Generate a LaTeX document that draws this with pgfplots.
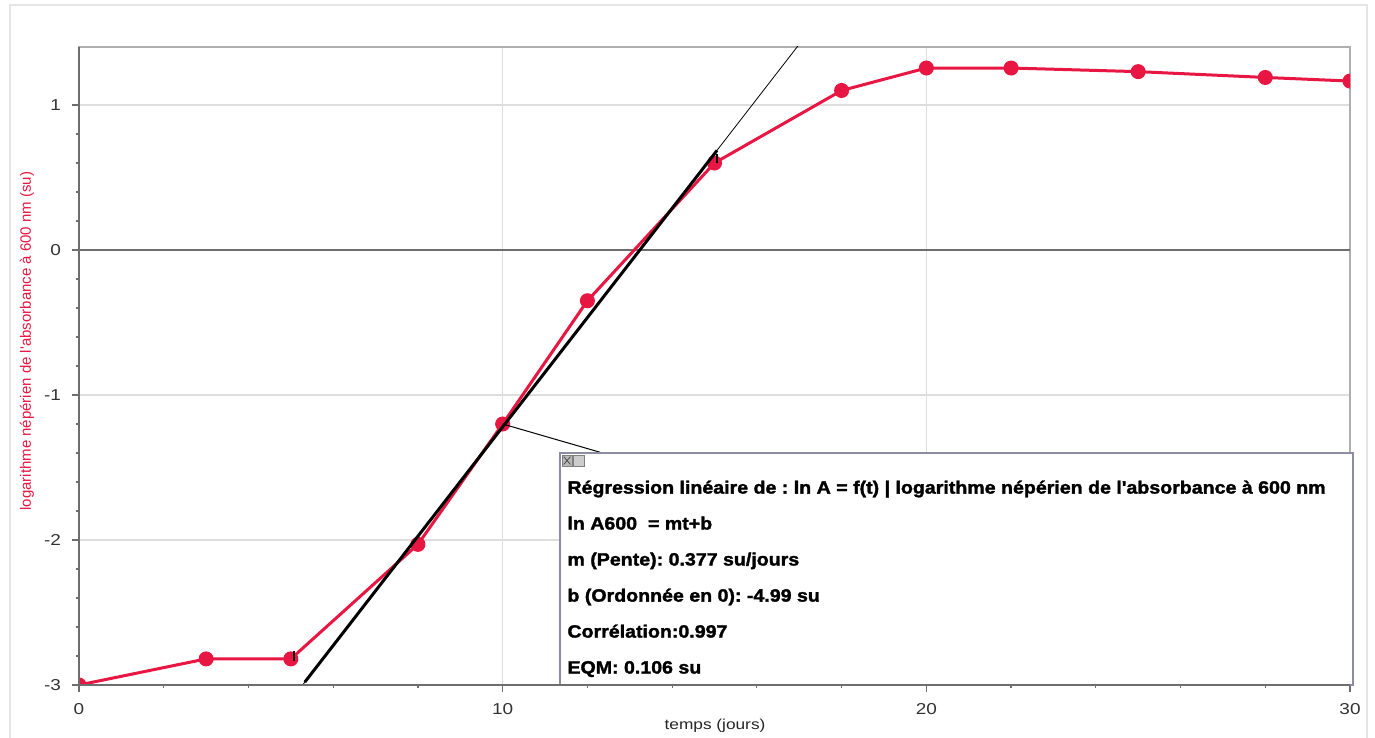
\documentclass[border=0pt]{standalone}
\usepackage{pgfplots}
\pgfplotsset{compat=1.18}
\usepackage{fontspec}
\setmainfont{Liberation Sans}[FakeStretch=1.2]
\newfontfamily\plainfont{Liberation Sans}
\newfontfamily\boxfont{Liberation Sans}[FakeStretch=1.1, BoldFeatures={FakeBold=1.8}]
\definecolor{redc}{RGB}{232,22,66}
\definecolor{axdark}{RGB}{110,110,110}
\definecolor{axlight}{RGB}{175,175,175}
\definecolor{gridc}{RGB}{222,222,222}
\definecolor{boxc}{RGB}{140,140,165}
\frenchspacing
\begin{document}
\begin{tikzpicture}
\useasboundingbox (-39.5pt,-26.5pt) rectangle (648pt,342.5pt);
\draw[black!10, line width=0.6pt] (-34.5pt,-26.5pt) -- (-34.5pt,340pt) -- (644pt,340pt) -- (644pt,-26.5pt);
\begin{axis}[
  at={(0,0)}, anchor=south west,
  scale only axis, width=635.5pt, height=319pt,
  xmin=0, xmax=30, ymin=-3, ymax=1.4,
  xtick={0,10,20,30}, xticklabels={0,10,20,30},
  ytick={-3,-2,-1,0,1}, yticklabels={-3,-2,-1,0,1},
  minor x tick num=4, minor y tick num=4,
  xtick pos=left, ytick pos=left,
  tick align=outside,
  major tick length=3.5pt, minor tick length=1.6pt,
  tick style={axdark, line width=0.6pt},
  grid=major, grid style={gridc, line width=0.6pt},
  axis line style={axlight, line width=0.7pt},
  clip mode=individual, clip marker paths=true,
  tick label style={font=\fontsize{7.9}{9}\selectfont, text=black!80},
  xticklabel style={yshift=-2pt},
  yticklabel style={xshift=-2pt},
  xlabel={temps (jours)},
  ylabel={logarithme népérien de l'absorbance à 600 nm (su)},
  every axis x label/.style={at={(axis description cs:0.5004,-0.0643)}, anchor=center, font=\fontsize{7.2}{8}\selectfont, text=black!85},
  every axis y label/.style={at={(axis description cs:-0.0409,0.539)}, rotate=90, anchor=center, font=\plainfont\fontsize{7.5}{9}\selectfont, text=redc},
]
\draw[axdark, line width=0.7pt] (axis cs:0,0) -- (axis cs:30,0);
\addplot[redc, line width=1.5pt, mark=*, mark size=3pt, mark options={fill=redc, draw=redc}] coordinates {
 (0,-3.0) (3,-2.82) (5,-2.82) (8,-2.03) (10,-1.2) (12,-0.35) (15,0.6)
 (18,1.1) (20,1.255) (22,1.255) (25,1.23) (28,1.19) (30,1.165)};
\addplot[black, line width=0.4pt] coordinates {(5,-3.105) (18,1.796)};
\addplot[black, line width=1.5pt] coordinates {(5.33,-2.98) (15.06,0.687)};
\addplot[black, only marks, mark=|, mark size=2.3pt, mark options={line width=0.9pt}] coordinates {(5.07,-2.80) (15.06,0.63)};
\draw[black, line width=0.5pt] (axis cs:10,-1.2) -- (axis cs:12.3,-1.395);
\draw[boxc, line width=0.8pt, fill=white] (axis cs:11.353,-1.4) rectangle (axis cs:30.07,-3.0);
\draw[gray, fill=gray!55] (axis cs:11.40,-1.414) rectangle (axis cs:11.64,-1.49);
\draw[black!70, line width=0.4pt] (axis cs:11.44,-1.425) -- (axis cs:11.60,-1.479) (axis cs:11.44,-1.479) -- (axis cs:11.60,-1.425);
\draw[gray, fill=gray!40] (axis cs:11.68,-1.414) rectangle (axis cs:11.92,-1.49);
\begin{scope}[every node/.style={anchor=base west, inner sep=0pt, font=\boxfont\fontsize{8.9}{10}\selectfont\bfseries, text=black}]
\node at (axis cs:11.52,-1.68) {Régression linéaire de : ln A = f(t) | logarithme népérien de l'absorbance à 600 nm};
\node at (axis cs:11.52,-1.928) {ln A600\ \ = mt+b};
\node at (axis cs:11.52,-2.176) {m (Pente): 0.377 su/jours};
\node at (axis cs:11.52,-2.425) {b (Ordonnée en 0): -4.99 su};
\node at (axis cs:11.52,-2.673) {Corrélation:0.997};
\node at (axis cs:11.52,-2.921) {EQM: 0.106 su};
\end{scope}
\draw[axdark, line width=0.8pt] (rel axis cs:0,1) -- (rel axis cs:0,0) -- (rel axis cs:1,0);
\end{axis}
\end{tikzpicture}
\end{document}
